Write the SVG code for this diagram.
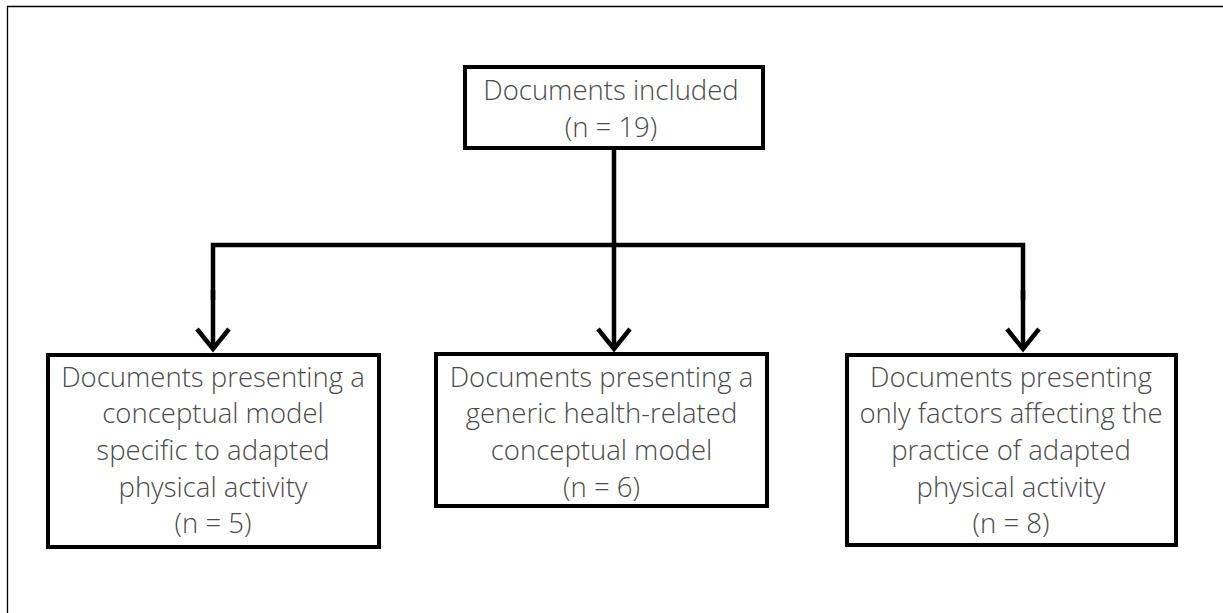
<svg xmlns="http://www.w3.org/2000/svg" width="1223" height="613" viewBox="0 0 1223 613">
  <style>
    .box { fill: #ffffff; stroke: #000000; stroke-width: 4; }
    .lbl { font-family: "Open Sans", "Liberation Sans", sans-serif; font-weight: 300; font-size: 27.5px; fill: #4a4a4a; text-anchor: middle; }
    .wire { fill: none; stroke: #000000; stroke-width: 4.5; }
    .frame { fill: none; stroke: #000000; stroke-width: 1.3; }
  </style>
  <defs>
    <!-- open V arrowhead; x axis follows the line direction -->
    <marker id="vee" markerUnits="userSpaceOnUse" viewBox="-24 -20 28 40" refX="0" refY="0" markerWidth="28" markerHeight="40" orient="auto">
      <path d="M-20,-16 L0,0 L-20,16" fill="none" stroke="#000000" stroke-width="4.5" stroke-linejoin="miter"/>
    </marker>
  </defs>
  <rect width="1223" height="613" fill="#ffffff"/>
  <!-- outer frame: top and left edges only -->
  <path class="frame" d="M7.5,613 V6.5 H1223"/>

  <g id="connectors">
    <path class="wire" d="M614,150 V245"/>
    <path class="wire" d="M213,300 V245 H1023 V300"/>
    <line class="wire" x1="213" y1="290" x2="213" y2="349" marker-end="url(#vee)"/>
    <line class="wire" x1="614" y1="245" x2="614" y2="349" marker-end="url(#vee)"/>
    <line class="wire" x1="1023" y1="290" x2="1023" y2="349" marker-end="url(#vee)"/>
  </g>

  <g id="node-included">
    <rect class="box" x="465" y="67" width="298" height="81"/>
    <text class="lbl" x="611" y="100">Documents included</text>
    <text class="lbl" x="611" y="137">(n = 19)</text>
  </g>

  <g id="node-specific">
    <rect class="box" x="48" y="355" width="331" height="192"/>
    <text class="lbl" x="213" y="387">Documents presenting a</text>
    <text class="lbl" x="213" y="423">conceptual model</text>
    <text class="lbl" x="213" y="460">specific to adapted</text>
    <text class="lbl" x="213" y="497">physical activity</text>
    <text class="lbl" x="213" y="533">(n = 5)</text>
  </g>

  <g id="node-generic">
    <rect class="box" x="436" y="354" width="331" height="152"/>
    <text class="lbl" x="601.5" y="387">Documents presenting a</text>
    <text class="lbl" x="601.5" y="423">generic health-related</text>
    <text class="lbl" x="601.5" y="460">conceptual model</text>
    <text class="lbl" x="601.5" y="497">(n = 6)</text>
  </g>

  <g id="node-factors">
    <rect class="box" x="847" y="355" width="329" height="190"/>
    <text class="lbl" x="1011" y="387">Documents presenting</text>
    <text class="lbl" x="1011" y="423">only factors affecting the</text>
    <text class="lbl" x="1011" y="460">practice of adapted</text>
    <text class="lbl" x="1011" y="497">physical activity</text>
    <text class="lbl" x="1011" y="533">(n = 8)</text>
  </g>
</svg>
